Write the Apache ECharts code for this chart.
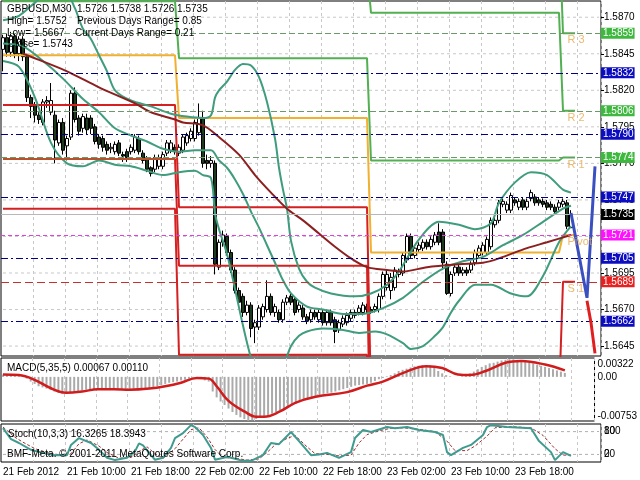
<!DOCTYPE html>
<html>
<head>
<meta charset="utf-8">
<script src="https://cdn.jsdelivr.net/npm/echarts@6.0.0/dist/echarts.min.js"></script>
<style>
html,body{margin:0;padding:0;background:#fff;}
#chart{width:640px;height:480px;}
</style>
</head>
<body>
<div id="chart"></div>
<script>
// ---------------- data ----------------
const timeLabels = ['21 Feb 2012','21 Feb 10:00','21 Feb 18:00','22 Feb 02:00','22 Feb 10:00','22 Feb 18:00','23 Feb 02:00','23 Feb 10:00','23 Feb 18:00'];
const barCount = 150;
const priceTicks = [1.5645,1.5670,1.5695,1.5720,1.5745,1.5770,1.5795,1.5820,1.5845,1.5870];
const priceMin = 1.56382, priceMax = 1.58811;
const stochLevels = [20, 80];

const opens = [1.5848,1.5856,1.5846,1.5857,1.5845,1.5855,1.5843,1.5815,1.5810,1.5803,1.5798,1.5812,1.5805,1.5803,1.5784,1.5798,1.5782,1.5788,1.5818,1.5801,
1.5794,1.5801,1.5801,1.5795,1.5788,1.5787,1.5783,1.5780,1.5778,1.5784,1.5776,1.5778,1.5778,1.5779,1.5787,1.5777,1.5774,1.5767,1.5766,1.5768,
1.5768,1.5777,1.5779,1.5781,1.5777,1.5779,1.5784,1.5787,1.5787,1.5791,1.5801,1.5772,1.5770,1.5770,1.5699,1.5716,1.5720,1.5709,1.5697,1.5683,
1.5679,1.5668,1.5673,1.5658,1.5658,1.5665,1.5670,1.5679,1.5668,1.5668,1.5663,1.5675,1.5679,1.5677,1.5670,1.5671,1.5665,1.5663,1.5668,1.5663,
1.5668,1.5661,1.5668,1.5663,1.5656,1.5660,1.5661,1.5664,1.5666,1.5668,1.5668,1.5672,1.5670,1.5670,1.5670,1.5679,1.5685,1.5683,1.5685,1.5694,
1.5695,1.5704,1.5720,1.5707,1.5711,1.5712,1.5716,1.5713,1.5716,1.5723,1.5723,1.5701,1.5681,1.5695,1.5699,1.5695,1.5697,1.5697,1.5702,1.5707,
1.5709,1.5709,1.5713,1.5728,1.5731,1.5742,1.5738,1.5738,1.5745,1.5740,1.5745,1.5740,1.5746,1.5747,1.5745,1.5744,1.5743,1.5742,1.5740,1.5740,
1.5742,1.5743,1.5726];
const closes = [1.5856,1.5846,1.5857,1.5845,1.5855,1.5843,1.5815,1.5809,1.5803,1.5800,1.5812,1.5813,1.5813,1.5786,1.5798,1.5779,1.5787,1.5818,1.5800,1.5792,
1.5802,1.5793,1.5794,1.5785,1.5783,1.5781,1.5779,1.5781,1.5783,1.5777,1.5775,1.5774,1.5781,1.5788,1.5778,1.5772,1.5766,1.5763,1.5774,1.5774,
1.5776,1.5784,1.5784,1.5778,1.5781,1.5788,1.5789,1.5792,1.5798,1.5801,1.5770,1.5770,1.5772,1.5701,1.5716,1.5721,1.5709,1.5697,1.5683,1.5675,
1.5668,1.5673,1.5657,1.5661,1.5671,1.5672,1.5679,1.5668,1.5672,1.5663,1.5675,1.5678,1.5675,1.5668,1.5673,1.5665,1.5662,1.5668,1.5665,1.5668,
1.5661,1.5668,1.5661,1.5655,1.5661,1.5664,1.5666,1.5668,1.5668,1.5671,1.5673,1.5670,1.5668,1.5672,1.5679,1.5694,1.5694,1.5692,1.5697,1.5696,
1.5707,1.5720,1.5707,1.5712,1.5714,1.5716,1.5713,1.5718,1.5721,1.5716,1.5702,1.5681,1.5694,1.5699,1.5695,1.5697,1.5695,1.5701,1.5709,1.5712,
1.5714,1.5718,1.5731,1.5731,1.5743,1.5744,1.5742,1.5748,1.5743,1.5744,1.5740,1.5744,1.5750,1.5743,1.5743,1.5742,1.5740,1.5740,1.5737,1.5743,
1.5744,1.5727,1.5735];
const lows = [1.5833,1.5843,1.5843,1.5842,1.5840,1.5840,1.5812,1.5801,1.5798,1.5797,1.5796,1.5808,1.5803,1.5770,1.5782,1.5776,1.5772,1.5786,1.5798,1.5789,
1.5791,1.5790,1.5790,1.5783,1.5780,1.5778,1.5776,1.5777,1.5776,1.5775,1.5771,1.5771,1.5776,1.5777,1.5776,1.5770,1.5764,1.5761,1.5764,1.5766,
1.5766,1.5775,1.5777,1.5776,1.5775,1.5777,1.5782,1.5785,1.5785,1.5789,1.5767,1.5766,1.5767,1.5694,1.5697,1.5713,1.5707,1.5695,1.5681,1.5672,
1.5665,1.5666,1.5651,1.5647,1.5656,1.5663,1.5668,1.5666,1.5665,1.5661,1.5661,1.5673,1.5673,1.5666,1.5668,1.5663,1.5660,1.5661,1.5663,1.5661,
1.5659,1.5659,1.5659,1.5647,1.5654,1.5658,1.5659,1.5662,1.5664,1.5666,1.5666,1.5667,1.5667,1.5668,1.5668,1.5677,1.5683,1.5677,1.5683,1.5692,
1.5693,1.5702,1.5705,1.5705,1.5709,1.5710,1.5711,1.5711,1.5714,1.5714,1.5697,1.5680,1.5679,1.5693,1.5693,1.5693,1.5693,1.5695,1.5700,1.5705,
1.5707,1.5707,1.5711,1.5726,1.5729,1.5740,1.5736,1.5736,1.5741,1.5738,1.5738,1.5738,1.5744,1.5741,1.5741,1.5740,1.5738,1.5738,1.5735,1.5738,
1.5740,1.5725,1.5726];
const highs = [1.5858,1.5859,1.5860,1.5859,1.5857,1.5857,1.5845,1.5817,1.5812,1.5805,1.5814,1.5816,1.5825,1.5806,1.5800,1.5801,1.5789,1.5820,1.5822,1.5803,
1.5804,1.5804,1.5803,1.5797,1.5790,1.5789,1.5785,1.5784,1.5785,1.5786,1.5778,1.5780,1.5783,1.5790,1.5789,1.5779,1.5775,1.5768,1.5776,1.5776,
1.5778,1.5786,1.5786,1.5783,1.5783,1.5790,1.5791,1.5794,1.5800,1.5811,1.5806,1.5776,1.5775,1.5772,1.5718,1.5724,1.5722,1.5711,1.5699,1.5685,
1.5681,1.5676,1.5675,1.5663,1.5673,1.5674,1.5690,1.5681,1.5674,1.5670,1.5677,1.5680,1.5681,1.5679,1.5675,1.5673,1.5667,1.5670,1.5670,1.5670,
1.5670,1.5670,1.5670,1.5665,1.5663,1.5666,1.5668,1.5670,1.5670,1.5673,1.5675,1.5674,1.5672,1.5674,1.5681,1.5696,1.5697,1.5695,1.5699,1.5698,
1.5709,1.5722,1.5722,1.5714,1.5716,1.5718,1.5718,1.5720,1.5723,1.5729,1.5725,1.5703,1.5696,1.5701,1.5701,1.5699,1.5699,1.5703,1.5711,1.5714,
1.5716,1.5720,1.5733,1.5733,1.5745,1.5746,1.5744,1.5750,1.5747,1.5746,1.5747,1.5746,1.5752,1.5749,1.5747,1.5746,1.5745,1.5744,1.5742,1.5745,
1.5746,1.5745,1.5738];

// moving average (bar, price)
const maPoints = [[5,1.5845],[6,1.5844],[16,1.5833],[24,1.5822],[33,1.5811],[37,1.5805],[43,1.5800],[45,1.5798],[50,1.5796],[54,1.5788],[59,1.5776],[63,1.5762],[67,1.5750],[71,1.5739],[75,1.5731],[79,1.5722],[83,1.5713],[87,1.5705],[91,1.5699],[96,1.5697],[100,1.5696],[106,1.5699],[114,1.5701],[120,1.5702],[124,1.5705],[131,1.5712],[136,1.5716],[142,1.5721]];
// Bollinger bands (bar, price)
const bbUpper = [[0,1.5868],[4,1.5871],[8,1.5880],[12,1.5888],[16,1.5886],[18,1.5876],[20,1.5862],[22,1.5855],[24,1.5844],[26,1.5833],[28,1.5820],[32,1.5813],[37,1.5809],[42,1.5804],[46,1.5802],[50,1.5801],[52,1.5803],[53,1.5815],[54,1.5820],[56,1.5826],[58,1.5834],[60,1.5838],[62,1.5837],[64,1.5829],[66,1.5812],[68,1.5787],[69,1.5767],[70,1.5752],[71,1.5739],[72,1.5717],[74,1.5698],[76,1.5689],[78,1.5685],[82,1.5681],[88,1.5679],[92,1.5681],[96,1.5687],[99,1.5696],[104,1.5718],[109,1.5730],[114,1.5728],[118,1.5725],[122,1.5729],[124,1.5743],[128,1.5757],[132,1.5764],[136,1.5762],[140,1.5752],[142,1.5750]];
const bbMiddle = [[0,1.5852],[5,1.5850],[10,1.5840],[15,1.5828],[20,1.5814],[24,1.5805],[28,1.5794],[32,1.5789],[36,1.5785],[40,1.5780],[44,1.5778],[48,1.5779],[52,1.5779],[54,1.5772],[56,1.5767],[58,1.5759],[60,1.5749],[62,1.5737],[64,1.5726],[66,1.5714],[68,1.5702],[70,1.5690],[72,1.5681],[76,1.5672],[80,1.5670],[85,1.5667],[90,1.5667],[95,1.5671],[100,1.5678],[105,1.5689],[110,1.5698],[115,1.5703],[120,1.5706],[125,1.5714],[130,1.5721],[135,1.5730],[140,1.5739],[142,1.5741]];
const bbLower = [[0,1.5840],[4,1.5836],[8,1.5815],[12,1.5784],[16,1.5770],[20,1.5768],[24,1.5772],[28,1.5769],[32,1.5768],[36,1.5765],[40,1.5762],[44,1.5764],[48,1.5765],[50,1.5762],[52,1.5760],[53,1.5736],[54,1.5725],[56,1.5708],[58,1.5684],[60,1.5659],[62,1.5637],[64,1.5623],[66,1.5616],[68,1.5617],[70,1.5630],[72,1.5645],[74,1.5652],[76,1.5655],[80,1.5657],[85,1.5656],[89,1.5654],[93,1.5655],[96,1.5653],[100,1.5647],[102,1.5643],[105,1.5645],[108,1.5652],[110,1.5658],[112,1.5668],[114,1.5676],[118,1.5687],[122,1.5687],[127,1.5681],[131,1.5679],[135,1.5693],[139,1.5716],[142,1.5727]];

// daily pivot levels (one value per day)
const dayStart = [0, 44, 92, 140];
const dayEnd = [43, 91, 139, 143];
const pivotP = [1.5844, 1.5801, 1.5709, 1.5721];
const levelR1 = [1.5881, 1.5842, 1.5772, 1.5774];
const levelR2 = [1.5915, 1.5903, 1.5873, 1.5806];
const levelR3 = [1.5950, 1.5944, 1.5935, 1.5859];
const levelS1 = [1.5810, 1.5740, 1.5608, 1.5689];
const levelS2 = [1.5773, 1.5700, 1.5545, 1.5636];
const levelS3 = [1.5739, 1.5639, 1.5443, 1.5605];
const levelNames = ['R 3','R 2','R 1','Pivot','S 1'];
const levelNameValues = [1.5859, 1.5806, 1.5774, 1.5721, 1.5689];

// horizontal price levels
const blueLevels = [1.5832, 1.5790, 1.5747, 1.5705, 1.5662];
const greenLevels = [1.5859, 1.5806, 1.5774];
const magentaLevel = 1.5721;
const redLevel = 1.5689;
const bidPrice = 1.5735;

// projection zigzags
const projUp = [[142,1.5736],[146,1.5678],[148,1.5768]];
const projDown = [[146,1.5676],[147,1.5661],[148,1.5640]];

// MACD(5,35,5)
const macdMain = [0.0004,0.0003,0.0003,0.0002,0.0002,0.0001,
-0.0003,-0.0008,-0.0012,-0.0016,-0.0018,
-0.0020,-0.0022,-0.0025,-0.0027,-0.0029,
-0.0029,-0.0027,-0.0025,-0.0024,-0.0023,
-0.0022,-0.0021,-0.0021,-0.0021,-0.0022,
-0.0022,-0.0022,-0.0022,-0.0022,-0.0022,
-0.0022,-0.0021,-0.0020,-0.0020,-0.0020,
-0.0020,-0.0019,-0.0018,-0.0016,-0.0014,
-0.0012,-0.0010,-0.0009,-0.0008,-0.0006,
-0.0005,-0.0003,-0.0001,0.0000,-0.0003,
-0.0006,-0.0008,-0.0025,-0.0035,-0.0042,
-0.0048,-0.0054,-0.0060,-0.0065,-0.0069,
-0.0072,-0.0075,-0.0074,-0.0072,-0.0070,
-0.0068,-0.0066,-0.0063,-0.0060,-0.0057,
-0.0055,-0.0052,-0.0049,-0.0046,-0.0043,
-0.0040,-0.0037,-0.0035,-0.0033,-0.0031,
-0.0029,-0.0028,-0.0027,-0.0025,-0.0023,
-0.0021,-0.0019,-0.0017,-0.0015,-0.0014,
-0.0013,-0.0012,-0.0010,-0.0007,-0.0004,
-0.0002,0.0001,0.0003,0.0006,0.0010,
0.0012,0.0014,0.0016,0.0018,0.0019,
0.0020,0.0020,0.0020,0.0018,0.0010,
0.0006,0.0003,0.0001,0.0000,0.0000,
0.0001,0.0002,0.0006,0.0009,0.0013,
0.0017,0.0020,0.0023,0.0024,0.0026,
0.0028,0.0029,0.0030,0.0030,0.0029,
0.0028,0.0027,0.0025,0.0023,0.0021,
0.0019,0.0017,0.0015,0.0013,0.0011,
0.0009,0.00067];
const macdSignal = [[0,0.0004],[4,0.0003],[8,-0.0005],[12,-0.0019],[16,-0.0027],[20,-0.0025],[24,-0.0021],[28,-0.0021],[32,-0.0022],[37,-0.0020],[41,-0.0016],[45,-0.0010],[49,-0.0002],[52,-0.0003],[54,-0.0016],[57,-0.0041],[61,-0.0059],[64,-0.0068],[66,-0.0068],[70,-0.0059],[74,-0.0044],[79,-0.0034],[87,-0.0026],[92,-0.0015],[96,-0.0008],[102,0.0009],[107,0.0018],[111,0.0015],[115,0.0004],[118,0.0003],[122,0.0010],[127,0.0024],[131,0.0027],[137,0.0021],[142,0.0011]];
const macdLabelValues = [0.0022, 0, -0.0067];
const macdLabels = ['0.00322','0.00','-0.00753'];

// Stochastic(10,3,3)
const stochMain = [[0,89],[2,60],[4,50],[7,32],[10,24],[13,18],[16,18],[17,45],[19,63],[22,50],[24,32],[26,11],[28,5],[31,11],[33,28],[34,49],[35,44],[37,18],[38,6],[40,11],[42,37],[43,63],[45,76],[47,97],[48,92],[50,71],[52,37],[53,6],[56,13],[57,11],[60,3],[62,3],[65,18],[67,50],[69,47],[72,79],[74,55],[77,18],[79,20],[81,24],[84,11],[87,26],[88,63],[90,84],[92,79],[96,92],[98,89],[101,92],[104,84],[108,79],[110,71],[111,26],[112,18],[115,37],[117,45],[120,71],[121,92],[122,97],[126,92],[132,89],[134,55],[137,26],[138,5],[140,26],[142,16.3]];
const stochSignal = [[0,92],[3,65],[5,52],[8,35],[11,25],[14,19],[17,22],[19,48],[21,58],[24,42],[26,25],[29,10],[32,12],[34,28],[36,40],[38,22],[40,10],[43,35],[45,60],[47,85],[49,90],[51,66],[53,33],[55,12],[58,10],[61,5],[64,8],[66,25],[68,45],[71,62],[73,70],[76,40],[78,22],[81,20],[84,16],[87,18],[89,50],[91,72],[94,82],[97,89],[100,90],[104,86],[108,80],[111,55],[113,30],[116,30],[118,42],[121,68],[123,90],[127,93],[132,90],[135,70],[138,35],[140,18],[142,18.4]];

// ---------------- build ----------------
const FONT = '"Liberation Sans", Arial, sans-serif';
const categories = Array.from({length: barCount}, (_, i) => String(i));
const candleData = opens.map((o, i) => [o, closes[i], lows[i], highs[i]]);
function stepData(levels) {
  const out = [];
  levels.forEach((v, d) => { out.push([dayStart[d], v]); out.push([dayEnd[d], v]); });
  return out;
}
function lineSeries(name, data, color, width, extra) {
  return Object.assign({
    name, type: 'line', xAxisIndex: 0, yAxisIndex: 0, data,
    symbol: 'none', silent: true, z: 3,
    lineStyle: { color, width }, itemStyle: { color }
  }, extra || {});
}
function gridLineSeries(v, axisIdx, color) {
  return {
    type: 'line', xAxisIndex: axisIdx, yAxisIndex: axisIdx, silent: true, z: 1, symbol: 'none',
    data: [[0, v], [barCount - 1, v]],
    lineStyle: { color, width: 1, type: [3, 3] }
  };
}
function priceBox(v, lineColor, lineType, boxColor) {
  return {
    yAxis: v,
    lineStyle: { color: lineColor, type: lineType, width: 1 },
    label: {
      show: true, position: 'end', distance: 0,
      formatter: v.toFixed(4), color: '#fff', backgroundColor: boxColor,
      padding: [1, 1, 0, 2], fontSize: 10, fontFamily: FONT
    }
  };
}

const xAxisBase = {
  type: 'category', data: categories, boundaryGap: true,
  axisLine: { show: false }, axisTick: { show: false },
  axisLabel: { show: false },
  splitLine: { show: true, interval: (i) => i % 8 === 0 && i > 0, lineStyle: { color: '#c8c8c8', type: [3, 3] } }
};

const option = {
  animation: false,
  backgroundColor: '#ffffff',
  textStyle: { fontFamily: FONT },
  grid: [
    { left: 1, top: 1, width: 600, height: 355, show: true, borderColor: '#000', borderWidth: 1, backgroundColor: '#fff' },
    { left: 1, top: 358, width: 600, height: 63, show: true, borderColor: '#000', borderWidth: 1, backgroundColor: '#fff' },
    { left: 1, top: 424, width: 600, height: 38, show: true, borderColor: '#000', borderWidth: 1, backgroundColor: '#fff' }
  ],
  xAxis: [
    Object.assign({}, xAxisBase, { gridIndex: 0 }),
    Object.assign({}, xAxisBase, { gridIndex: 1 }),
    Object.assign({}, xAxisBase, {
      gridIndex: 2,
      axisLabel: {
        show: true, interval: 15, align: 'left', margin: 5,
        fontSize: 10, color: '#000', fontFamily: FONT,
        formatter: (v, idx) => timeLabels[idx / 16] || ''
      }
    })
  ],
  yAxis: [
    {
      type: 'value', gridIndex: 0, position: 'right', min: priceMin, max: priceMax,
      axisLine: { show: false },
      axisTick: { show: true, length: 3, customValues: priceTicks, lineStyle: { color: '#000' } },
      axisLabel: { customValues: priceTicks, formatter: (v) => v.toFixed(4), fontSize: 10, color: '#000', margin: 3, fontFamily: FONT },
      splitLine: { show: false }
    },
    {
      type: 'value', gridIndex: 1, position: 'right', min: -0.00753, max: 0.00322,
      axisLine: { show: false }, axisTick: { show: false, customValues: macdLabelValues },
      axisLabel: { customValues: macdLabelValues, formatter: (v) => macdLabels[macdLabelValues.indexOf(v)] || '', fontSize: 10, color: '#000', margin: 3, fontFamily: FONT },
      splitLine: { show: false }
    },
    {
      type: 'value', gridIndex: 2, position: 'right', min: 0, max: 100,
      axisLine: { show: false }, axisTick: { show: false, customValues: stochLevels },
      axisLabel: { customValues: stochLevels, formatter: (v) => String(v), fontSize: 10, color: '#000', margin: 3, fontFamily: FONT },
      splitLine: { show: false }
    },
    {
      type: 'value', gridIndex: 2, position: 'right', min: 0, max: 100,
      axisLine: { show: false }, axisTick: { show: false, customValues: stochLevels },
      axisLabel: { customValues: stochLevels, formatter: (v) => (v === 80 ? '100' : '0'), fontSize: 10, color: '#000', margin: 3, fontFamily: FONT },
      splitLine: { show: false }
    }
  ],
  series: [
    ...priceTicks.map(v => gridLineSeries(v, 0, '#c8c8c8')),
    ...stochLevels.map(v => Object.assign(gridLineSeries(v, 2, '#b0b0b0'), { yAxisIndex: 2 })),
    {
      name: 'GBPUSD', type: 'candlestick', xAxisIndex: 0, yAxisIndex: 0, data: candleData,
      barWidth: 3, z: 2, silent: true,
      itemStyle: { color: '#ffffff', color0: '#1e3a1e', borderColor: '#000000', borderColor0: '#000000', borderWidth: 1 }
    },
    lineSeries('R3', stepData(levelR3), '#52b052', 2),
    lineSeries('R2', stepData(levelR2), '#52b052', 2),
    lineSeries('R1', stepData(levelR1), '#52b052', 2),
    lineSeries('Pivot', stepData(pivotP), '#f0b030', 2),
    lineSeries('S1', stepData(levelS1), '#d42020', 2),
    lineSeries('S2', stepData(levelS2), '#d42020', 2),
    lineSeries('S2 first day', [[dayStart[0], levelS2[0]], [dayEnd[0], levelS2[0]]], '#b8522c', 2, { z: 3.5 }),
    lineSeries('S3', stepData(levelS3), '#d42020', 2),
    lineSeries('BB upper', bbUpper, '#3f9c7c', 2, { smooth: 0.3 }),
    lineSeries('BB middle', bbMiddle, '#3f9c7c', 2, { smooth: 0.3 }),
    lineSeries('BB lower', bbLower, '#3f9c7c', 2, { smooth: 0.3 }),
    lineSeries('MA', maPoints, '#8c2020', 2, {
      smooth: 0.3, z: 4,
      markLine: {
        silent: true, symbol: ['none', 'none'], animation: false, precision: 6,
        data: [
          priceBox(bidPrice, '#b8b8b8', 'solid', '#000000'),
          ...greenLevels.map(v => priceBox(v, '#6a9a6a', [6, 3], '#3fb83f')),
          ...blueLevels.map(v => priceBox(v, '#000080', [7, 3, 2, 3], '#0c0cc0')),
          priceBox(magentaLevel, '#e040e0', [4, 3], '#ff10ff'),
          priceBox(redLevel, '#c83030', [8, 4], '#e82020')
        ]
      }
    }),
    lineSeries('proj up', projUp, '#3a4fc0', 3, {
      z: 6, symbol: (v, p) => (p.dataIndex === projUp.length - 1 ? 'arrow' : 'none'), symbolSize: [9, 16], symbolRotate: -3
    }),
    lineSeries('proj down', projDown, '#e02020', 3, {
      z: 6, symbol: (v, p) => (p.dataIndex === projDown.length - 1 ? 'arrow' : 'none'), symbolSize: [9, 14], symbolRotate: 180
    }),
    {
      name: 'level names', type: 'scatter', xAxisIndex: 0, yAxisIndex: 0, silent: true, z: 6,
      symbolSize: 1, itemStyle: { color: 'rgba(0,0,0,0)' },
      data: levelNames.map((n, i) => ({ name: n, value: [141, levelNameValues[i]] })),
      label: { show: true, position: [1, 2], formatter: (p) => p.name, color: '#e6a84a', fontSize: 11, fontFamily: FONT }
    },
    {
      name: 'MACD', type: 'bar', xAxisIndex: 1, yAxisIndex: 1, data: macdMain,
      barWidth: 2, silent: true, itemStyle: { color: '#aaaaaa' }
    },
    {
      name: 'Signal', type: 'line', xAxisIndex: 1, yAxisIndex: 1, data: macdSignal,
      symbol: 'none', smooth: 0.4, silent: true, lineStyle: { color: '#d01c1c', width: 2.5 }
    },
    {
      name: 'Stoch', type: 'line', xAxisIndex: 2, yAxisIndex: 2, data: stochMain,
      symbol: 'none', silent: true, lineStyle: { color: '#3f9a90', width: 2 }, z: 3
    },
    {
      name: 'Stoch signal', type: 'line', xAxisIndex: 2, yAxisIndex: 2, data: stochSignal,
      symbol: 'none', silent: true, lineStyle: { color: '#9a3030', width: 1, type: [3, 2] }, z: 2
    }
  ],
  graphic: [
    { type: 'text', left: 7, top: 4, z: 100, style: { text: 'GBPUSD,M30  1.5726 1.5738 1.5726 1.5735', font: '10px ' + FONT, fill: '#000' } },
    { type: 'text', left: 7, top: 16, z: 100, style: { text: 'High= 1.5752', font: '10px ' + FONT, fill: '#000' } },
    { type: 'text', left: 77, top: 16, z: 100, style: { text: 'Previous Days Range= 0.85', font: '10px ' + FONT, fill: '#000' } },
    { type: 'text', left: 7, top: 28, z: 100, style: { text: 'Low= 1.5667', font: '10px ' + FONT, fill: '#000' } },
    { type: 'text', left: 75, top: 28, z: 100, style: { text: 'Current Days Range= 0.21', font: '10px ' + FONT, fill: '#000' } },
    { type: 'text', left: 8, top: 39, z: 100, style: { text: 'Close= 1.5743', font: '10px ' + FONT, fill: '#000' } },
    { type: 'text', left: 7, top: 363, z: 100, style: { text: 'MACD(5,35,5) 0.00067 0.00110', font: '10px ' + FONT, fill: '#000' } },
    { type: 'text', left: 8, top: 429, z: 100, style: { text: 'Stoch(10,3,3) 16.3265 18.3943', font: '10px ' + FONT, fill: '#000' } },
    { type: 'text', left: 7, top: 449, z: 100, style: { text: 'BMF-Meta. © 2001-2011 MetaQuotes Software Corp.', font: '10px ' + FONT, fill: '#000' } }
  ]
};

const chart = echarts.init(document.getElementById('chart'), null, { renderer: 'canvas', width: 640, height: 480 });
chart.setOption(option);
</script>
</body>
</html>
